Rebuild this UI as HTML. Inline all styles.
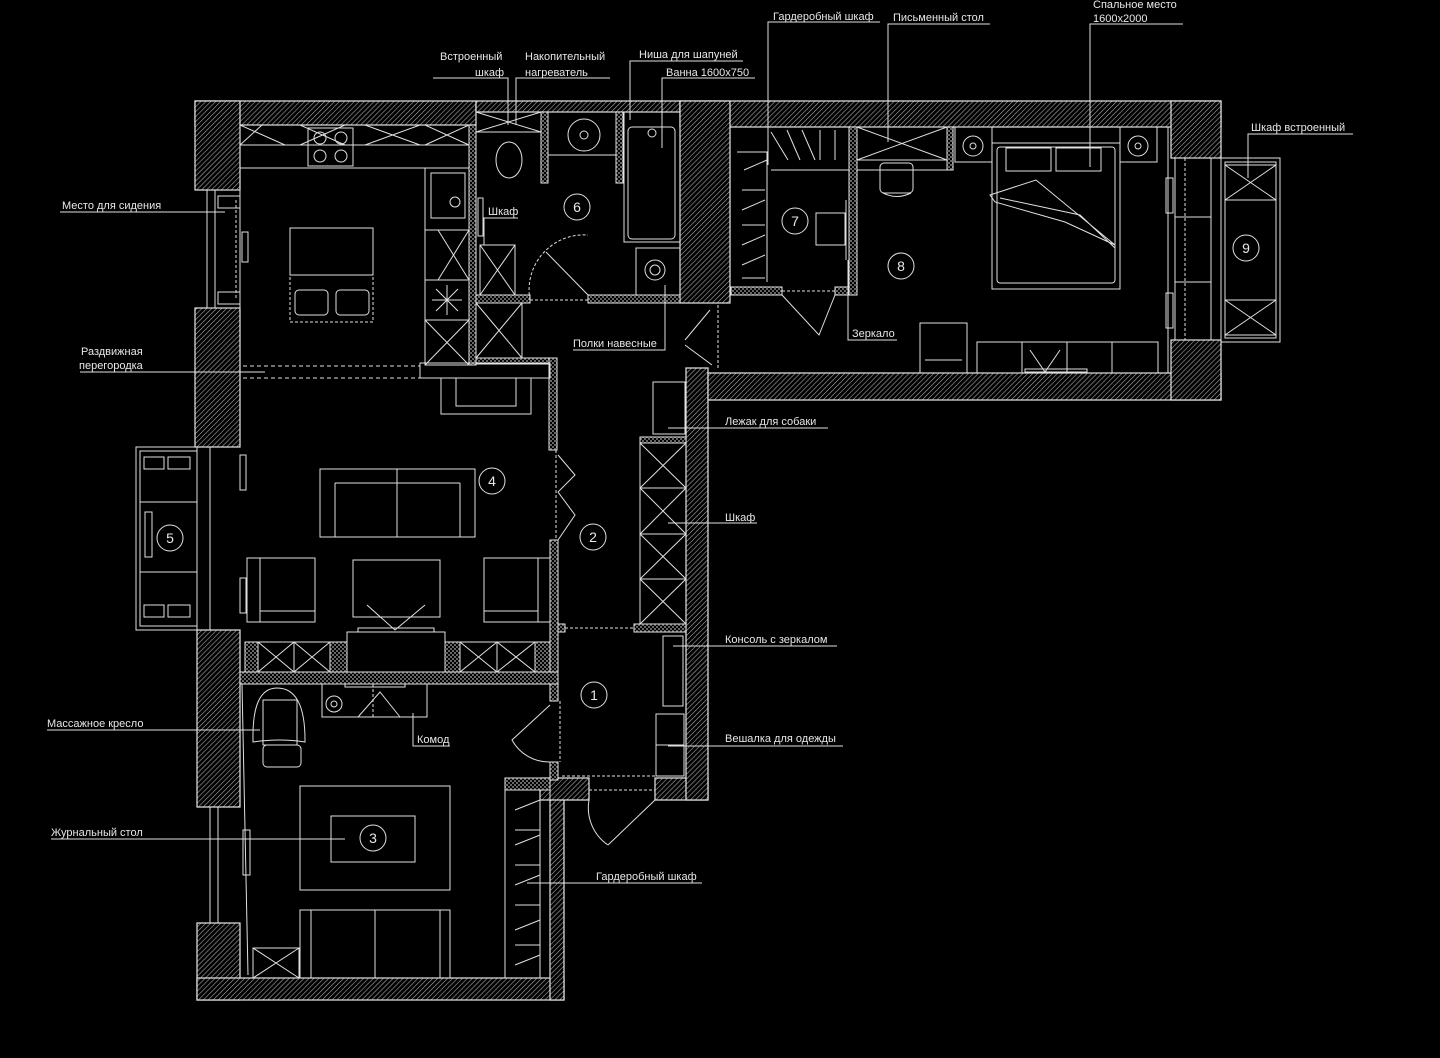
<!DOCTYPE html>
<html><head><meta charset="utf-8">
<style>
html,body{margin:0;padding:0;background:#000;}
svg{display:block;}
text{font-family:"Liberation Sans","DejaVu Sans",sans-serif;font-size:11px;fill:#e8e8e8;}
.n{font-size:14px;text-anchor:middle;}
</style></head><body>
<svg width="1440" height="1058" viewBox="0 0 1440 1058" xmlns="http://www.w3.org/2000/svg">
<defs>
<pattern id="h" width="3.5" height="3.5" patternUnits="userSpaceOnUse" patternTransform="rotate(45)">
<rect width="3.5" height="3.5" fill="#000"/><line x1="0" y1="0" x2="0" y2="3.5" stroke="#a8a8a8" stroke-width="1.2"/>
</pattern>
<pattern id="c" width="4" height="4" patternUnits="userSpaceOnUse">
<rect width="4" height="4" fill="#666"/><rect width="2" height="2" fill="#000"/><rect x="2" y="2" width="2" height="2" fill="#000"/>
</pattern>
</defs>
<rect width="1440" height="1058" fill="#000"/>

<g stroke="#e8e8e8" stroke-width="1.2" fill="url(#h)">
<rect x="195" y="101" width="281" height="24"/>
<rect x="476" y="101" width="204" height="11"/>
<rect x="680" y="101" width="541" height="26"/>
<rect x="195" y="101" width="45" height="89"/>
<rect x="195" y="308" width="45" height="139"/>
<rect x="197" y="630" width="43" height="177"/>
<rect x="197" y="923" width="43" height="77"/>
<rect x="197" y="978" width="367" height="22"/>
<rect x="550" y="780" width="14" height="220"/>
<rect x="540" y="778" width="49" height="22"/>
<rect x="655" y="778" width="53" height="22"/>
<rect x="686" y="368" width="22" height="432"/>
<rect x="680" y="101" width="50" height="202"/>
<rect x="708" y="373" width="513" height="27"/>
<rect x="1171" y="101" width="50" height="57"/>
<rect x="1171" y="340" width="50" height="60"/>
</g>

<g stroke="#e8e8e8" stroke-width="1" fill="url(#c)">
<rect x="469" y="125" width="7" height="240"/>
<rect x="476" y="295" width="54" height="8"/>
<rect x="588" y="295" width="92" height="8"/>
<rect x="541" y="112" width="7" height="71"/>
<rect x="616" y="112" width="7" height="71"/>
<rect x="476" y="358" width="81" height="6"/>
<rect x="549" y="358" width="8" height="92"/>
<rect x="550" y="540" width="8" height="161"/>
<rect x="550" y="762" width="8" height="18"/>
<rect x="558" y="624" width="7" height="8"/>
<rect x="634" y="624" width="52" height="8"/>
<rect x="240" y="672" width="318" height="12"/>
<rect x="245" y="642" width="13" height="30"/>
<rect x="330" y="642" width="17" height="30"/>
<rect x="445" y="642" width="15" height="30"/>
<rect x="535" y="642" width="15" height="30"/>
<rect x="505" y="778" width="45" height="12"/>
<rect x="640" y="437" width="46" height="6"/>
<rect x="731" y="287" width="51" height="8"/>
<rect x="835" y="287" width="22" height="8"/>
<rect x="849" y="127" width="8" height="168"/>
<rect x="947" y="127" width="6" height="43"/>
</g>

<g stroke="#e0e0e0" stroke-width="1" fill="none">
<rect x="207" y="190" width="33" height="118"/><line x1="215" y1="190" x2="215" y2="308"/><line x1="240" y1="190" x2="240" y2="308"/>
<rect x="218" y="196" width="22" height="12"/><rect x="218" y="292" width="22" height="12"/>
<line x1="236" y1="200" x2="236" y2="300" stroke-dasharray="3,2"/>
<rect x="242" y="232" width="6" height="30"/>
<rect x="136" y="447" width="61" height="183"/><rect x="140" y="451" width="57" height="175"/>
<line x1="197" y1="447" x2="197" y2="630"/><line x1="210" y1="447" x2="210" y2="630"/><line x1="140" y1="502" x2="197" y2="502"/><line x1="140" y1="572" x2="197" y2="572"/>
<rect x="145" y="512" width="7" height="45"/>
<rect x="144" y="457" width="20" height="12"/><rect x="168" y="457" width="22" height="12"/>
<rect x="144" y="605" width="20" height="12"/><rect x="168" y="605" width="22" height="12"/>
<rect x="240" y="455" width="6" height="35"/><rect x="240" y="578" width="6" height="35"/>
<line x1="210" y1="807" x2="210" y2="923"/><line x1="218" y1="807" x2="218" y2="923"/>
<rect x="243" y="830" width="7" height="45"/>
<line x1="242" y1="684" x2="248" y2="975"/>
<rect x="240" y="125" width="229" height="43"/>
<path d="M240,125 L285,145 M262,125 L240,145 M300,125 L345,145 M300,145 L345,125 M365,125 L420,145 M365,145 L420,125 M425,125 L469,145 M425,145 L469,125"/>
<line x1="240" y1="145" x2="469" y2="145"/>
<rect x="308" y="128" width="45" height="38"/>
<circle cx="320" cy="138" r="6"/><circle cx="341" cy="138" r="6"/><circle cx="320" cy="156" r="6"/><circle cx="341" cy="156" r="6"/>
<rect x="425" y="168" width="44" height="197"/>
<line x1="425" y1="230" x2="469" y2="230"/><line x1="425" y1="280" x2="469" y2="280"/><line x1="425" y1="320" x2="469" y2="320"/>
<rect x="431" y="173" width="34" height="45"/><circle cx="455" cy="202" r="5"/>
<path d="M438,230 L469,280 M469,230 L438,280 M425,320 L469,365 M469,320 L425,365"/>
<path d="M432,300 L462,300 M447,285 L447,315 M436,289 L458,311 M458,289 L436,311"/>
<rect x="290" y="228" width="83" height="47"/>
<rect x="290" y="275" width="83" height="47" stroke-dasharray="3,2"/>
<rect x="295" y="290" width="33" height="25" rx="4"/><rect x="336" y="290" width="33" height="25" rx="4"/>
<line x1="243" y1="366" x2="420" y2="366" stroke-dasharray="4,3"/><line x1="243" y1="378" x2="420" y2="378" stroke-dasharray="4,3"/>
<rect x="420" y="363" width="130" height="15"/>
<rect x="441" y="378" width="90" height="36"/><rect x="456" y="378" width="60" height="28"/>
<rect x="476" y="112" width="65" height="20"/><path d="M476,112 L541,132 M541,112 L476,132"/>
<ellipse cx="509" cy="160" rx="13" ry="18"/>
<rect x="548" y="112" width="68" height="43"/><circle cx="584" cy="135" r="16"/><circle cx="584" cy="135" r="4"/>
<rect x="624" y="112" width="56" height="130"/><rect x="628" y="127" width="47" height="112" rx="4"/><circle cx="652" cy="133" r="4"/>
<rect x="636" y="248" width="44" height="47"/><circle cx="655" cy="270" r="10"/><circle cx="655" cy="270" r="5"/>
<rect x="480" y="245" width="35" height="50"/><path d="M480,245 L515,295 M515,245 L480,295"/>
<rect x="478" y="198" width="5" height="38"/>
<path d="M530,300 A55,55 0 0 1 588,235" stroke-dasharray="3,2"/><line x1="530" y1="300" x2="588" y2="300" stroke-dasharray="3,2"/>
<line x1="546" y1="252" x2="588" y2="295"/>
<rect x="476" y="303" width="46" height="55"/><path d="M476,303 L522,358 M522,303 L476,358"/>
<path d="M685,340 L710,310 M685,345 L712,365" />
<line x1="718" y1="305" x2="718" y2="370" stroke-dasharray="3,2"/>
<rect x="653" y="382" width="32" height="52"/>
<rect x="640" y="443" width="46" height="181"/>
<path d="M640,443 L686,488 M686,443 L640,488 M640,488 L686,534 M686,488 L640,534 M640,534 L686,579 M686,534 L640,579 M640,579 L686,624 M686,579 L640,624"/>
<line x1="640" y1="488" x2="686" y2="488"/><line x1="640" y1="534" x2="686" y2="534"/><line x1="640" y1="579" x2="686" y2="579"/>
<rect x="663" y="636" width="20" height="70"/>
<rect x="656" y="714" width="28" height="62"/><line x1="656" y1="745" x2="684" y2="745"/>
<line x1="565" y1="628" x2="634" y2="628" stroke-dasharray="3,2"/>
<line x1="589" y1="790" x2="655" y2="790" stroke-dasharray="3,2"/>
<line x1="562" y1="776" x2="655" y2="776" stroke-dasharray="3,2"/>
<path d="M655,800 L608,845 M589,800 A45,45 0 0 0 608,845"/>
<path d="M558,455 L575,475 L558,492 L575,515 L558,540"/>
<line x1="556" y1="450" x2="556" y2="540" stroke-dasharray="3,2"/>
<path d="M550,705 L512,740 A42,42 0 0 0 550,762"/>
<line x1="560" y1="701" x2="560" y2="762" stroke-dasharray="3,2"/>
<rect x="320" y="469" width="155" height="68"/><line x1="397" y1="469" x2="397" y2="537"/><line x1="335" y1="483" x2="460" y2="483"/><line x1="335" y1="483" x2="335" y2="537"/><line x1="460" y1="483" x2="460" y2="537"/>
<rect x="247" y="558" width="68" height="64"/><line x1="260" y1="558" x2="260" y2="622"/><line x1="260" y1="611" x2="315" y2="611"/>
<rect x="484" y="558" width="66" height="64"/><line x1="538" y1="558" x2="538" y2="622"/><line x1="484" y1="611" x2="538" y2="611"/>
<rect x="353" y="560" width="87" height="57"/>
<path d="M367,605 L395,630 L425,605"/>
<rect x="347" y="632" width="98" height="40"/><rect x="358" y="628" width="76" height="4"/>
<rect x="258" y="642" width="72" height="30"/><path d="M258,642 L294,672 M294,642 L258,672 M294,642 L330,672 M330,642 L294,672"/><line x1="294" y1="642" x2="294" y2="672"/>
<rect x="460" y="642" width="75" height="30"/><path d="M460,642 L497,672 M497,642 L460,672 M497,642 L535,672 M535,642 L497,672"/><line x1="497" y1="642" x2="497" y2="672"/>
<rect x="322" y="684" width="105" height="33"/><circle cx="334" cy="704" r="8"/><circle cx="334" cy="704" r="3"/>
<path d="M358,717 L380,692 L400,717"/><line x1="373" y1="684" x2="373" y2="717" stroke-dasharray="3,2"/>
<rect x="345" y="684" width="60" height="3"/>
<path d="M253,740 Q252,688 277,688 Q305,688 305,740 L305,742 Q280,738 253,742 Z"/>
<rect x="263" y="700" width="34" height="45"/><rect x="263" y="745" width="38" height="22" rx="4"/>
<rect x="300" y="786" width="150" height="104"/><rect x="331" y="816" width="84" height="46"/>
<rect x="300" y="910" width="150" height="68"/><line x1="375" y1="910" x2="375" y2="978"/><line x1="311" y1="910" x2="311" y2="978"/><line x1="440" y1="910" x2="440" y2="978"/>
<rect x="253" y="948" width="46" height="30"/><path d="M253,948 L299,978 M299,948 L253,978"/>
<rect x="505" y="790" width="45" height="188"/><line x1="540" y1="790" x2="540" y2="978"/>
<path d="M515,810 L540,800 M515,830 L540,830 M515,845 L540,835 M515,865 L540,865 M515,885 L540,875 M515,905 L540,905 M515,930 L540,920 M515,945 L540,945 M515,965 L540,955"/>
<path d="M737,152 L767,152 L767,282 M744,170 L767,160 M742,190 L765,190 M742,210 L765,200 M742,225 L765,225 M742,245 L765,235 M742,265 L765,255 M742,278 L765,278"/>
<path d="M771,132 L788,160 M787,130 L800,160 M802,130 L815,160 M820,130 L820,160 M835,130 L835,160 M771,170 L849,170"/>
<rect x="816" y="213" width="29" height="32"/>
<path d="M782,295 L819,335 L835,295" /><line x1="782" y1="291" x2="835" y2="291" stroke-dasharray="3,2"/>
<line x1="846" y1="200" x2="846" y2="260"/>
<rect x="857" y="127" width="90" height="43"/><path d="M857,127 L947,160 M857,160 L947,127"/><line x1="857" y1="160" x2="947" y2="160"/>
<rect x="880" y="163" width="33" height="30" rx="4"/><path d="M883,193 Q897,200 911,193"/>
<rect x="955" y="127" width="37" height="35"/><circle cx="973" cy="146" r="10"/><circle cx="973" cy="146" r="3"/>
<rect x="1120" y="127" width="37" height="35"/><circle cx="1138" cy="146" r="10"/><circle cx="1138" cy="146" r="3"/>
<rect x="992" y="143" width="128" height="146"/><rect x="997" y="147" width="118" height="136" rx="3"/>
<rect x="1006" y="148" width="45" height="23"/><rect x="1056" y="148" width="45" height="23"/>
<path d="M990,195 L1036,180 L1115,245 L1065,222 L995,202 Z M1000,198 L1080,215 L1115,248"/>
<rect x="920" y="323" width="47" height="50"/><line x1="925" y1="360" x2="962" y2="360"/>
<rect x="977" y="342" width="181" height="31"/><line x1="1022" y1="342" x2="1022" y2="373"/><line x1="1067" y1="342" x2="1067" y2="373"/><line x1="1112" y1="342" x2="1112" y2="373"/>
<path d="M1030,350 L1045,372 L1060,350"/><rect x="1025" y="369" width="62" height="3"/>
<line x1="1168" y1="127" x2="1168" y2="373"/>
<rect x="1166" y="178" width="7" height="35"/><rect x="1166" y="293" width="7" height="35"/>
<rect x="1175" y="158" width="46" height="182"/><line x1="1185" y1="158" x2="1185" y2="340" stroke-dasharray="3,2"/>
<line x1="1175" y1="217" x2="1211" y2="217"/><line x1="1175" y1="282" x2="1211" y2="282"/><line x1="1211" y1="158" x2="1211" y2="340"/>
<rect x="1221" y="158" width="59" height="184"/><rect x="1225" y="162" width="51" height="176"/>
<rect x="1225" y="165" width="51" height="35"/><path d="M1225,165 L1276,200 M1276,165 L1225,200"/>
<rect x="1225" y="300" width="51" height="35"/><path d="M1225,300 L1276,335 M1276,300 L1225,335"/>

<circle cx="594" cy="695" r="13"/><circle cx="593" cy="537" r="13"/><circle cx="373" cy="838" r="13"/>
<circle cx="492" cy="481" r="13"/><circle cx="170" cy="538" r="13"/><circle cx="577" cy="207" r="13"/>
<circle cx="795" cy="221" r="13"/><circle cx="901" cy="266" r="13"/><circle cx="1246" cy="248" r="13"/>

<path d="M60,212 L225,212 M80,372 L265,372 M47,730 L260,730 M51,839 L345,839 M527,883 L702,883 M668,746 L843,746 M673,646 L837,646 M668,523 L757,523 M668,428 L828,428 M573,350 L665,350 L665,285 M848,260 L848,340 L897,340 M484,245 L484,218 L518,218 M433,78 L508,78 L508,125 M516,125 L516,78 L610,78 M630,120 L630,61 L743,61 M662,148 L662,78 L755,78 M768,165 L768,22 L880,22 M888,142 L888,24 L990,24 M1090,167 L1090,24 L1183,24 M1248,178 L1248,134 L1353,134 M413,713 L413,746 L450,746"/>
</g>
<g>
<text x="62" y="209">Место для сидения</text>
<text x="81" y="355">Раздвижная</text><text x="79" y="369">перегородка</text>
<text x="47" y="727">Массажное кресло</text>
<text x="51" y="836">Журнальный стол</text>
<text x="596" y="880">Гардеробный шкаф</text>
<text x="725" y="742">Вешалка для одежды</text>
<text x="725" y="643">Консоль с зеркалом</text>
<text x="725" y="521">Шкаф</text>
<text x="725" y="425">Лежак для собаки</text>
<text x="573" y="347">Полки навесные</text>
<text x="852" y="337">Зеркало</text>
<text x="488" y="215">Шкаф</text>
<text x="440" y="60">Встроенный</text><text x="475" y="76">шкаф</text>
<text x="525" y="60">Накопительный</text><text x="525" y="76">нагреватель</text>
<text x="639" y="58">Ниша для шапуней</text>
<text x="666" y="76">Ванна 1600х750</text>
<text x="773" y="20">Гардеробный шкаф</text>
<text x="893" y="21">Письменный стол</text>
<text x="1093" y="8">Спальное место</text><text x="1093" y="22">1600х2000</text>
<text x="1251" y="131">Шкаф встроенный</text>
<text x="417" y="743">Комод</text>
<text class="n" x="594" y="700">1</text><text class="n" x="593" y="542">2</text><text class="n" x="373" y="843">3</text>
<text class="n" x="492" y="486">4</text><text class="n" x="170" y="543">5</text><text class="n" x="577" y="212">6</text>
<text class="n" x="795" y="226">7</text><text class="n" x="901" y="271">8</text><text class="n" x="1246" y="253">9</text>
</g>
</svg>
</body></html>
